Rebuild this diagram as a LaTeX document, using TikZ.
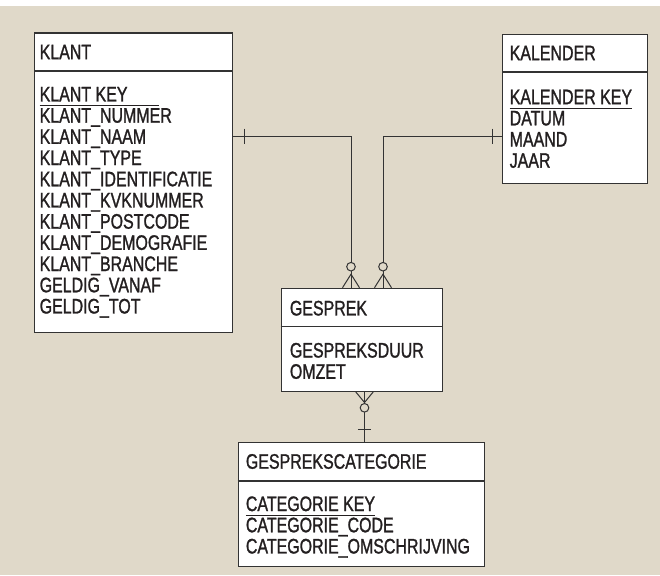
\documentclass[tikz,border=0pt]{standalone}
\usepackage{fontspec}
\setmainfont{Liberation Sans}[FakeStretch=0.76, FakeBold=1.2]
\definecolor{bgbeige}{RGB}{224,217,201}
\definecolor{inkgray}{RGB}{51,51,51}
\definecolor{inkblack}{RGB}{35,31,32}
\newlength{\keywd}
\newcommand{\sleutel}[2][0pt]{\settowidth{\keywd}{#2}\ifdim#1>\keywd\setlength{\keywd}{#1}\fi\rlap{\rule[-4.9pt]{\keywd}{1.2pt}}#2}

\begin{document}
\begin{tikzpicture}[x=1pt,y=-1pt,
	tbl/.style={draw=inkgray, fill=white, line width=1.1pt, inner sep=0pt, anchor=north west},
	ttl/.style={inner sep=0pt, anchor=west, text=inkblack, font=\fontsize{21}{21.2}\selectfont},
	attr/.style={inner sep=0pt, anchor=north west, align=left, text=inkblack, font=\fontsize{21}{21.2}\selectfont},
	rel/.style={draw=inkgray, line width=1pt}]
	\useasboundingbox (0,0) rectangle (660,575);
	\fill[bgbeige] (0,6) rectangle (660,575);
	% KLANT
	\node[tbl, minimum width=198pt, minimum height=299.5pt] (klant) at (34,32.5) {};
	\draw[inkgray, line width=1.1pt] ([yshift=-38.5pt]klant.north west) -- ([yshift=-38.5pt]klant.north east);
	\node[ttl] (klanttitel) at ([xshift=5.5pt,yshift=-19.5pt]klant.north west) {KLANT};
	\node[attr] (klantattr) at ([xshift=5.5pt,yshift=-54.3pt]klant.north west) {\sleutel[119pt]{KLANT KEY}\\ KLANT\_NUMMER\\ KLANT\_NAAM\\ KLANT\_TYPE\\ KLANT\_IDENTIFICATIE\\ KLANT\_KVKNUMMER\\ KLANT\_POSTCODE\\ KLANT\_DEMOGRAFIE\\ KLANT\_BRANCHE\\ GELDIG\_VANAF\\ GELDIG\_TOT};
	% KALENDER
	\node[tbl, minimum width=145pt, minimum height=149pt] (kalender) at (502,34) {};
	\draw[inkgray, line width=1.1pt] ([yshift=-38pt]kalender.north west) -- ([yshift=-38pt]kalender.north east);
	\node[ttl] (kalendertitel) at ([xshift=7.5pt,yshift=-19pt]kalender.north west) {KALENDER};
	\node[attr] (kalenderattr) at ([xshift=7.5pt,yshift=-55.5pt]kalender.north west) {\sleutel{KALENDER KEY}\\ DATUM\\ MAAND\\ JAAR};
	% GESPREK
	\node[tbl, minimum width=161.3pt, minimum height=103pt] (gesprek) at (280.7,287.7) {};
	\draw[inkgray, line width=1.1pt] ([yshift=-39pt]gesprek.north west) -- ([yshift=-39pt]gesprek.north east);
	\node[ttl] (gesprektitel) at ([xshift=9pt,yshift=-20.5pt]gesprek.north west) {GESPREK};
	\node[attr] (gesprekattr) at ([xshift=9pt,yshift=-55pt]gesprek.north west) {GESPREKSDUUR\\ OMZET};
	% GESPREKSCATEGORIE
	\node[tbl, minimum width=246.3pt, minimum height=124pt] (categorie) at (237.7,442) {};
	\draw[inkgray, line width=1.1pt] ([yshift=-39pt]categorie.north west) -- ([yshift=-39pt]categorie.north east);
	\node[ttl] (categorietitel) at ([xshift=8pt,yshift=-19.5pt]categorie.north west) {GESPREKSCATEGORIE};
	\node[attr] (categorieattr) at ([xshift=8pt,yshift=-54.2pt]categorie.north west) {\sleutel{CATEGORIE KEY}\\ CATEGORIE\_CODE\\ CATEGORIE\_OMSCHRIJVING};
	% relaties
	\draw[rel] ([yshift=-103.5pt]klant.north east) -| ([xshift=70.3pt]gesprek.north west);
	\draw[rel] ([xshift=11pt,yshift=-96pt]klant.north east) -- ++(0,15);
	\draw[rel] ([xshift=61.8pt]gesprek.north west) -- ++(8.5,-13.5) -- ++(8.5,13.5);
	\draw[rel, fill=bgbeige] ([xshift=70.3pt,yshift=21pt]gesprek.north west) circle (4.3);
	\draw[rel] ([yshift=-102pt]kalender.north west) -| ([xshift=102.3pt]gesprek.north west);
	\draw[rel] ([xshift=-10pt,yshift=-94.5pt]kalender.north west) -- ++(0,15);
	\draw[rel] ([xshift=93.8pt]gesprek.north west) -- ++(8.5,-13.5) -- ++(8.5,13.5);
	\draw[rel, fill=bgbeige] ([xshift=102.3pt,yshift=21pt]gesprek.north west) circle (4.3);
	\coordinate (onder) at ([xshift=83.8pt]gesprek.south west);
	\draw[rel] (onder) -- (onder |- categorie.north);
	\draw[rel] ([xshift=-8.8pt]onder) -- ++(8.8,10.7) -- ++(8.8,-10.7);
	\draw[rel, fill=bgbeige] ([yshift=-16pt]onder) circle (4.3);
	\draw[rel] ([xshift=-6.7pt,yshift=13pt]onder |- categorie.north) -- ++(13.4,0);
\end{tikzpicture}
\end{document}
